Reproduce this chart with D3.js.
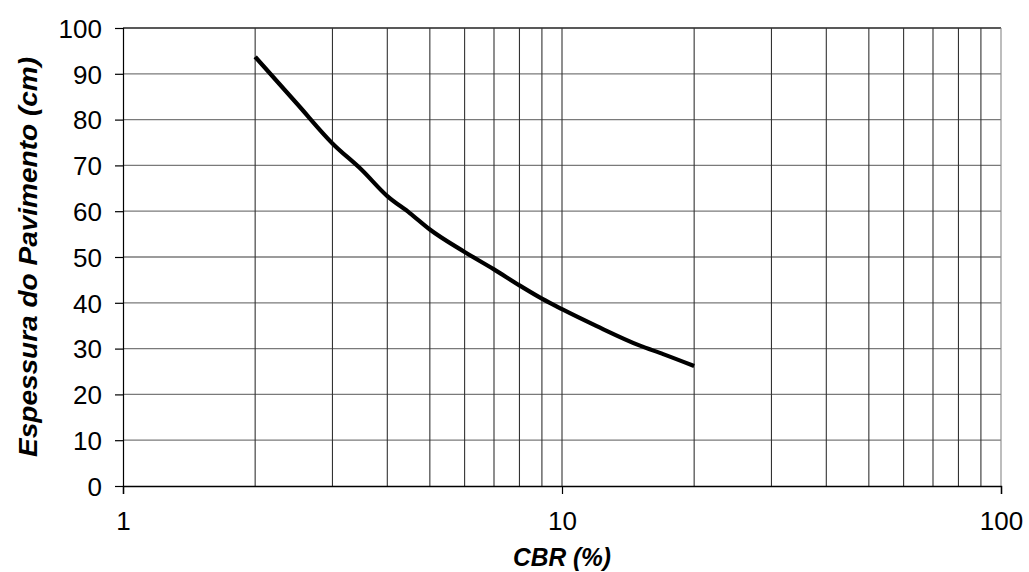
<!DOCTYPE html>
<html>
<head>
<meta charset="utf-8">
<script src="https://cdn.jsdelivr.net/npm/d3@7"></script>
<style>
  html, body { margin: 0; padding: 0; background: #fff; }
  svg { display: block; }
  text { font-family: "Liberation Sans", Arial, sans-serif; fill: #000; }
</style>
</head>
<body>
<svg id="chart" width="1029" height="572"></svg>
<script>
// ---- data ----
const cbr = [2, 2.5, 3, 3.5, 4, 4.5, 5, 6, 7, 8, 9, 10, 12, 15, 17, 20];
const espessura = [93.7, 83.3, 74.8, 69.0, 63.3, 59.6, 56.0, 51.1, 47.3, 43.8, 40.9, 38.6, 34.9, 30.7, 28.8, 26.2];
const xTickLabels = [1, 10, 100];
const xGridValues = [2, 3, 4, 5, 6, 7, 8, 9, 10, 20, 30, 40, 50, 60, 70, 80, 90, 100];
const yTickLabels = [0, 10, 20, 30, 40, 50, 60, 70, 80, 90, 100];
const xTitle = "CBR (%)";
const yTitle = "Espessura do Pavimento (cm)";

// ---- layout ----
const plotLeft = 123, plotRight = 1001, plotTop = 28, plotBottom = 486;
const svg = d3.select("#chart");

const x = d3.scaleLog().domain([1, 100]).range([plotLeft, plotRight]);
const y = d3.scaleLinear().domain([0, 100]).range([plotBottom, plotTop]);

// horizontal gridlines
svg.append("g").selectAll("line").data(yTickLabels.filter(v => v > 0)).join("line")
  .attr("x1", plotLeft).attr("x2", plotRight)
  .attr("y1", d => y(d)).attr("y2", d => y(d))
  .attr("stroke", d => d === 100 ? "#222" : "#7a7a7a").attr("stroke-width", 1.3);

// vertical gridlines
svg.append("g").selectAll("line").data(xGridValues).join("line")
  .attr("x1", d => x(d)).attr("x2", d => x(d))
  .attr("y1", plotTop).attr("y2", plotBottom)
  .attr("stroke", d => d === 100 ? "#888" : "#333").attr("stroke-width", 1.1);

// y axis
const yAxis = d3.axisLeft(y).tickValues(yTickLabels).tickSize(8).tickPadding(13).tickFormat(d3.format("d"));
const gy = svg.append("g").attr("transform", `translate(${plotLeft},0)`).call(yAxis);
gy.select(".domain").attr("stroke", "#000").attr("stroke-width", 1.2);
gy.selectAll(".tick line").attr("stroke", "#000").attr("stroke-width", 1.2);
gy.selectAll(".tick text").style("font-size", "26px").style("font-family", '"Liberation Sans", Arial, sans-serif').attr("dy", "0.36em");

// x axis
const xAxis = d3.axisBottom(x).tickValues(xTickLabels).tickSize(8).tickPadding(18).tickFormat(d3.format("d"));
const gx = svg.append("g").attr("transform", `translate(0,${plotBottom})`).call(xAxis);
gx.select(".domain").attr("stroke", "#000").attr("stroke-width", 1.4);
gx.selectAll(".tick line").attr("stroke", "#000").attr("stroke-width", 1.2);
gx.selectAll(".tick text").style("font-size", "26px").style("font-family", '"Liberation Sans", Arial, sans-serif');

// curve
const line = d3.line().x((d, i) => x(cbr[i])).y(d => y(d)).curve(d3.curveMonotoneX);
svg.append("path").datum(espessura)
  .attr("d", line).attr("fill", "none")
  .attr("stroke", "#000").attr("stroke-width", 4.2)
  .attr("stroke-linejoin", "round").attr("stroke-linecap", "butt");

// axis titles
svg.append("text").attr("x", (plotLeft + plotRight) / 2).attr("y", 566)
  .attr("text-anchor", "middle")
  .attr("textLength", 98).attr("lengthAdjust", "spacingAndGlyphs")
  .style("font-size", "26px").style("font-weight", "bold").style("font-style", "italic")
  .text(xTitle);

svg.append("text")
  .attr("transform", `translate(37,${(plotTop + plotBottom) / 2}) rotate(-90)`)
  .attr("text-anchor", "middle")
  .attr("textLength", 400).attr("lengthAdjust", "spacingAndGlyphs")
  .style("font-size", "25px").style("font-weight", "bold").style("font-style", "italic")
  .text(yTitle);
</script>
</body>
</html>
